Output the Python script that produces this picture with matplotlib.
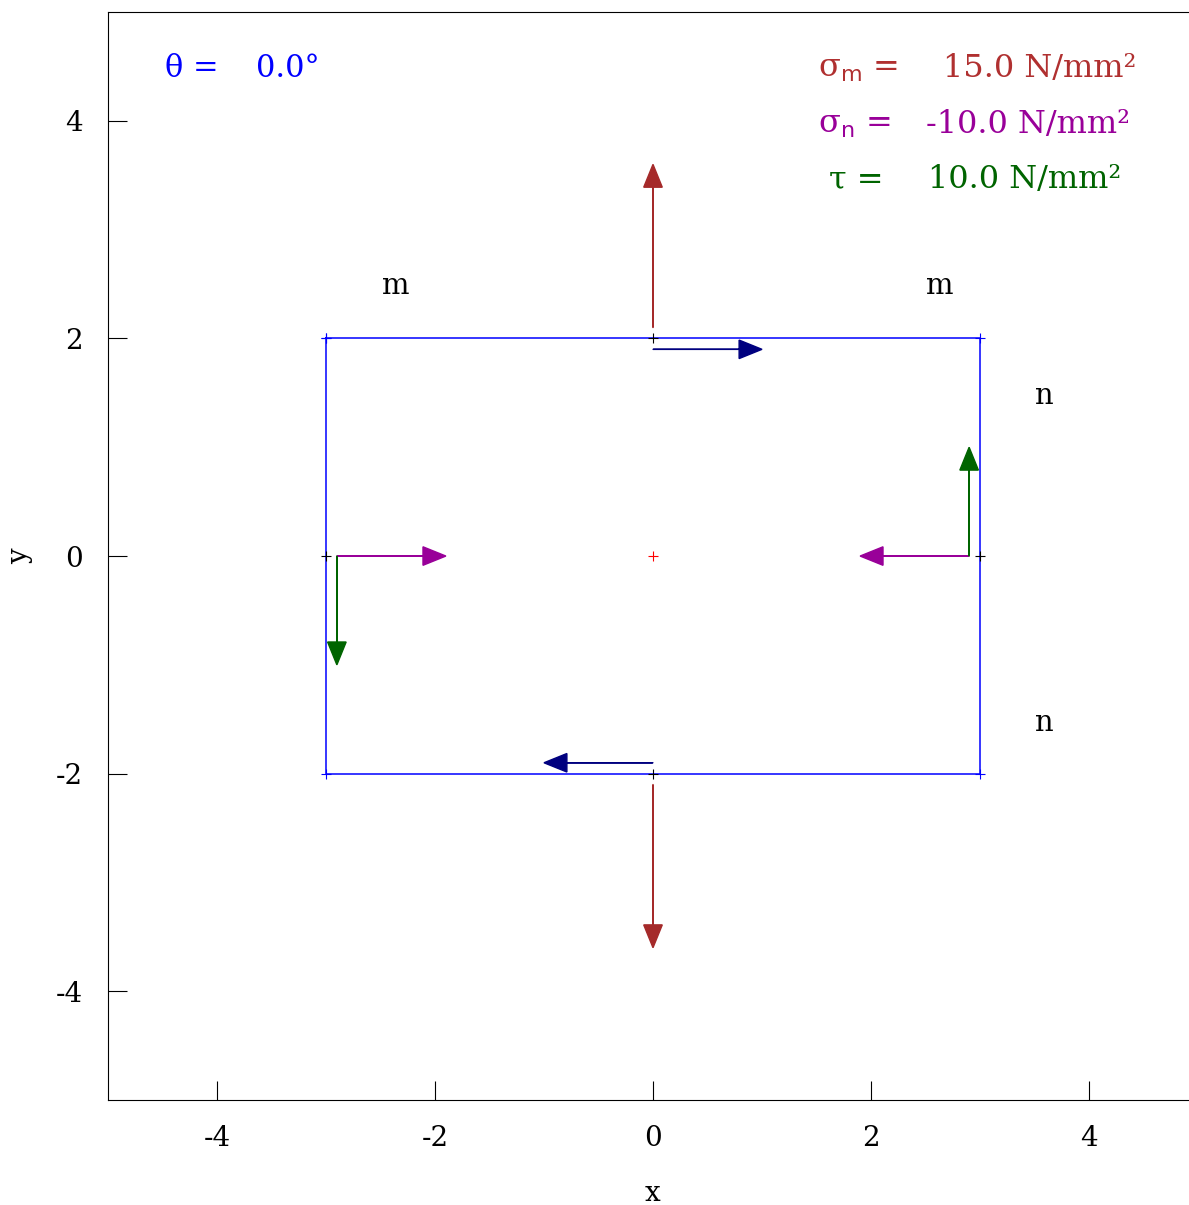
import numpy as np
import matplotlib
matplotlib.use("Agg")
import matplotlib.pyplot as plt

# stress state on the element
theta = 0.0          # degrees
sigma_m = 15.0       # N/mm^2
sigma_n = -10.0      # N/mm^2
tau = 10.0           # N/mm^2

# element half sizes and arrow scale
half_w = 3.0
half_h = 2.0
scale = 0.1
gap = 0.1

tick_vals = [-4, -2, 0, 2, 4]
tick_labels = ["-4", "-2", "0", "2", "4"]

plt.rcParams['font.family'] = 'DejaVu Serif'
plt.rcParams['mathtext.fontset'] = 'dejavuserif'
plt.rcParams['axes.unicode_minus'] = False

fig = plt.figure(figsize=(11.89, 12.05), dpi=100)
ax = fig.add_axes([0.0908, 0.0871, 0.9168, 0.9029])
ax.set_xlim(-5, 5)
ax.set_ylim(-5, 5)

# element outline
rx = [-half_w, half_w, half_w, -half_w, -half_w]
ry = [half_h, half_h, -half_h, -half_h, half_h]
ax.plot(rx, ry, color='blue', lw=1.1, marker='+', ms=7, mew=0.8)
# midpoints of the faces and centre
ax.plot([0, 0, -half_w, half_w], [half_h, -half_h, 0, 0], ls='none', marker='+',
        color='black', ms=7, mew=0.8)
ax.plot([0], [0], ls='none', marker='+', color='red', ms=7, mew=0.8)

def arrow(x, y, dx, dy, c):
    ax.arrow(x, y, dx, dy, color=c, lw=1.0, head_width=0.17, head_length=0.21,
             length_includes_head=True)

c_m = '#a52a2a'
c_n = '#990099'
c_t = '#006400'
c_s = '#00007f'
c_txt_m = '#b03030'

# normal stress on m faces (top / bottom)
arrow(0, half_h + gap, 0, sigma_m * scale, c_m)
arrow(0, -half_h - gap, 0, -sigma_m * scale, c_m)
# shear on m faces
arrow(0, half_h - gap, tau * scale, 0, c_s)
arrow(0, -half_h + gap, -tau * scale, 0, c_s)
# normal stress on n faces (left / right), negative = compression
arrow(-half_w + gap, 0, -sigma_n * scale, 0, c_n)
arrow(half_w - gap, 0, sigma_n * scale, 0, c_n)
# shear on n faces
arrow(-half_w + gap, 0, 0, -tau * scale, c_t)
arrow(half_w - gap, 0, 0, tau * scale, c_t)

# face labels
fs = 21
ax.text(-2.36, 2.48, 'm', fontsize=fs, ha='center', va='center')
ax.text(2.63, 2.48, 'm', fontsize=fs, ha='center', va='center')
ax.text(3.59, 1.47, 'n', fontsize=fs, ha='center', va='center')
ax.text(3.59, -1.53, 'n', fontsize=fs, ha='center', va='center')

# values
fs_v = 23
ax.text(-4.48, 4.48, 'θ =', color='blue', fontsize=22, va='center')
ax.text(-3.64, 4.48, '%.1f°' % theta, color='blue', fontsize=22, va='center')

ax.text(1.51, 4.48, r'σ$_{\mathsf{m}}$ =', color=c_txt_m, fontsize=fs_v, va='center')
ax.text(2.66, 4.48, '%.1f N/mm²' % sigma_m, color=c_txt_m, fontsize=fs_v, va='center')
ax.text(1.51, 3.97, r'σ$_{\mathsf{n}}$ =', color=c_n, fontsize=fs_v, va='center')
ax.text(2.50, 3.97, '%.1f N/mm²' % sigma_n, color=c_n, fontsize=fs_v, va='center')
ax.text(1.61, 3.46, 'τ =', color=c_t, fontsize=fs_v, va='center')
ax.text(2.52, 3.46, '%.1f N/mm²' % tau, color=c_t, fontsize=fs_v, va='center')

ax.set_xticks(tick_vals)
ax.set_xticklabels(tick_labels)
ax.set_yticks(tick_vals)
ax.set_yticklabels(tick_labels)
ax.tick_params(direction='in', length=14, labelsize=20, pad=18)
ax.set_xlabel('x', fontsize=20, labelpad=20)
ax.set_ylabel('y', fontsize=20, labelpad=16)

fig.savefig('out.png', dpi=100)
